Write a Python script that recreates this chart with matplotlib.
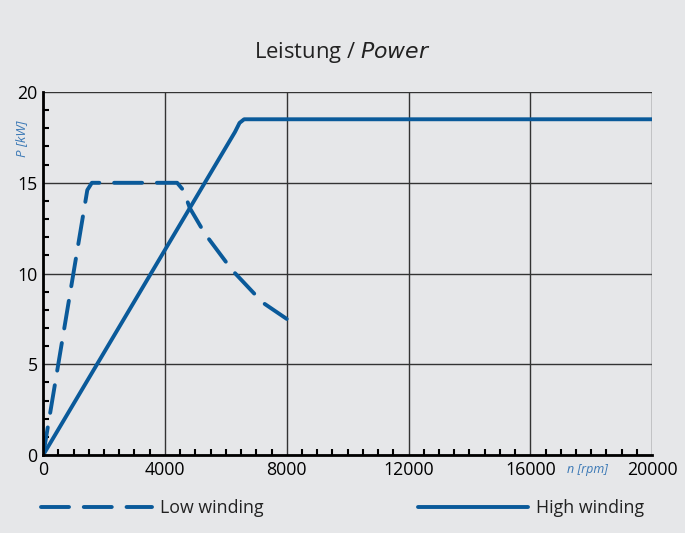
import matplotlib
matplotlib.use("Agg")
import matplotlib.pyplot as plt
from matplotlib.ticker import MultipleLocator

plt.rcParams["font.family"] = ["Open Sans", "DejaVu Sans"]

# Daten
n_low = [0, 1450, 1600, 4400, 4600, 4820, 5310, 6200, 7210, 8000]
p_low = [0, 14.6, 15.0, 15.0, 14.6, 13.6, 12.2, 10.2, 8.4, 7.5]
n_high = [0, 6300, 6450, 6600, 20000]
p_high = [0, 17.8, 18.3, 18.5, 18.5]

x_ticks = [0, 4000, 8000, 12000, 16000, 20000]
y_ticks = [0, 5, 10, 15, 20]

blue = "#0a5a9a"
bg = "#e6e7e9"

fig = plt.figure(figsize=(6.85, 5.33), dpi=100, facecolor=bg)
ax = fig.add_axes([0.063, 0.1463, 0.889, 0.681], facecolor=bg)

ax.plot(n_low, p_low, color=blue, lw=2.8, dashes=(7.2, 3.8),
        dash_capstyle="round", solid_joinstyle="round", label="Low winding")
ax.plot(n_high, p_high, color=blue, lw=2.8, solid_capstyle="round",
        solid_joinstyle="round", label="High winding")

ax.set_xlim(0, 20000)
ax.set_ylim(0, 20)
ax.set_xticks(x_ticks)
ax.set_yticks(y_ticks)
ax.xaxis.set_minor_locator(MultipleLocator(500))
ax.yaxis.set_minor_locator(MultipleLocator(1))
ax.grid(True, which="major", color="#333333", lw=1)
ax.set_axisbelow(True)
ax.tick_params(which="both", direction="in", color="black", width=1.5,
               labelsize=12.8, pad=4)
ax.tick_params(which="major", length=0)
ax.tick_params(which="minor", length=4)
for s in ["top", "right"]:
    ax.spines[s].set_visible(False)
for s in ["left", "bottom"]:
    ax.spines[s].set_linewidth(2)
    ax.spines[s].set_color("black")

fig.text(0.5, 0.902, "Leistung / $\\it{Power}$", ha="center", va="center",
         fontsize=15.8, color="#222222")
ax.text(-0.035, 0.87, "P [kW]", transform=ax.transAxes, rotation=90,
        color="#3a78b5", style="italic", fontsize=9.5, ha="center", va="center")
ax.text(0.893, -0.04, "n [rpm]", transform=ax.transAxes,
        color="#3a78b5", style="italic", fontsize=9, ha="center", va="center")

lines = ax.get_lines()
leg1 = fig.legend([lines[0]], ["Low winding"], loc="center left",
                  bbox_to_anchor=(0.05, 0.047), frameon=False, fontsize=12.8,
                  handlelength=6.2, handletextpad=0.45, borderaxespad=0)
leg2 = fig.legend([lines[1]], ["High winding"], loc="center left",
                  bbox_to_anchor=(0.6, 0.047), frameon=False, fontsize=12.8,
                  handlelength=6.2, handletextpad=0.45, borderaxespad=0)
for leg in (leg1, leg2):
    for t in leg.get_texts():
        t.set_color("#222222")

fig.savefig("out.png", dpi=100, facecolor=bg)
